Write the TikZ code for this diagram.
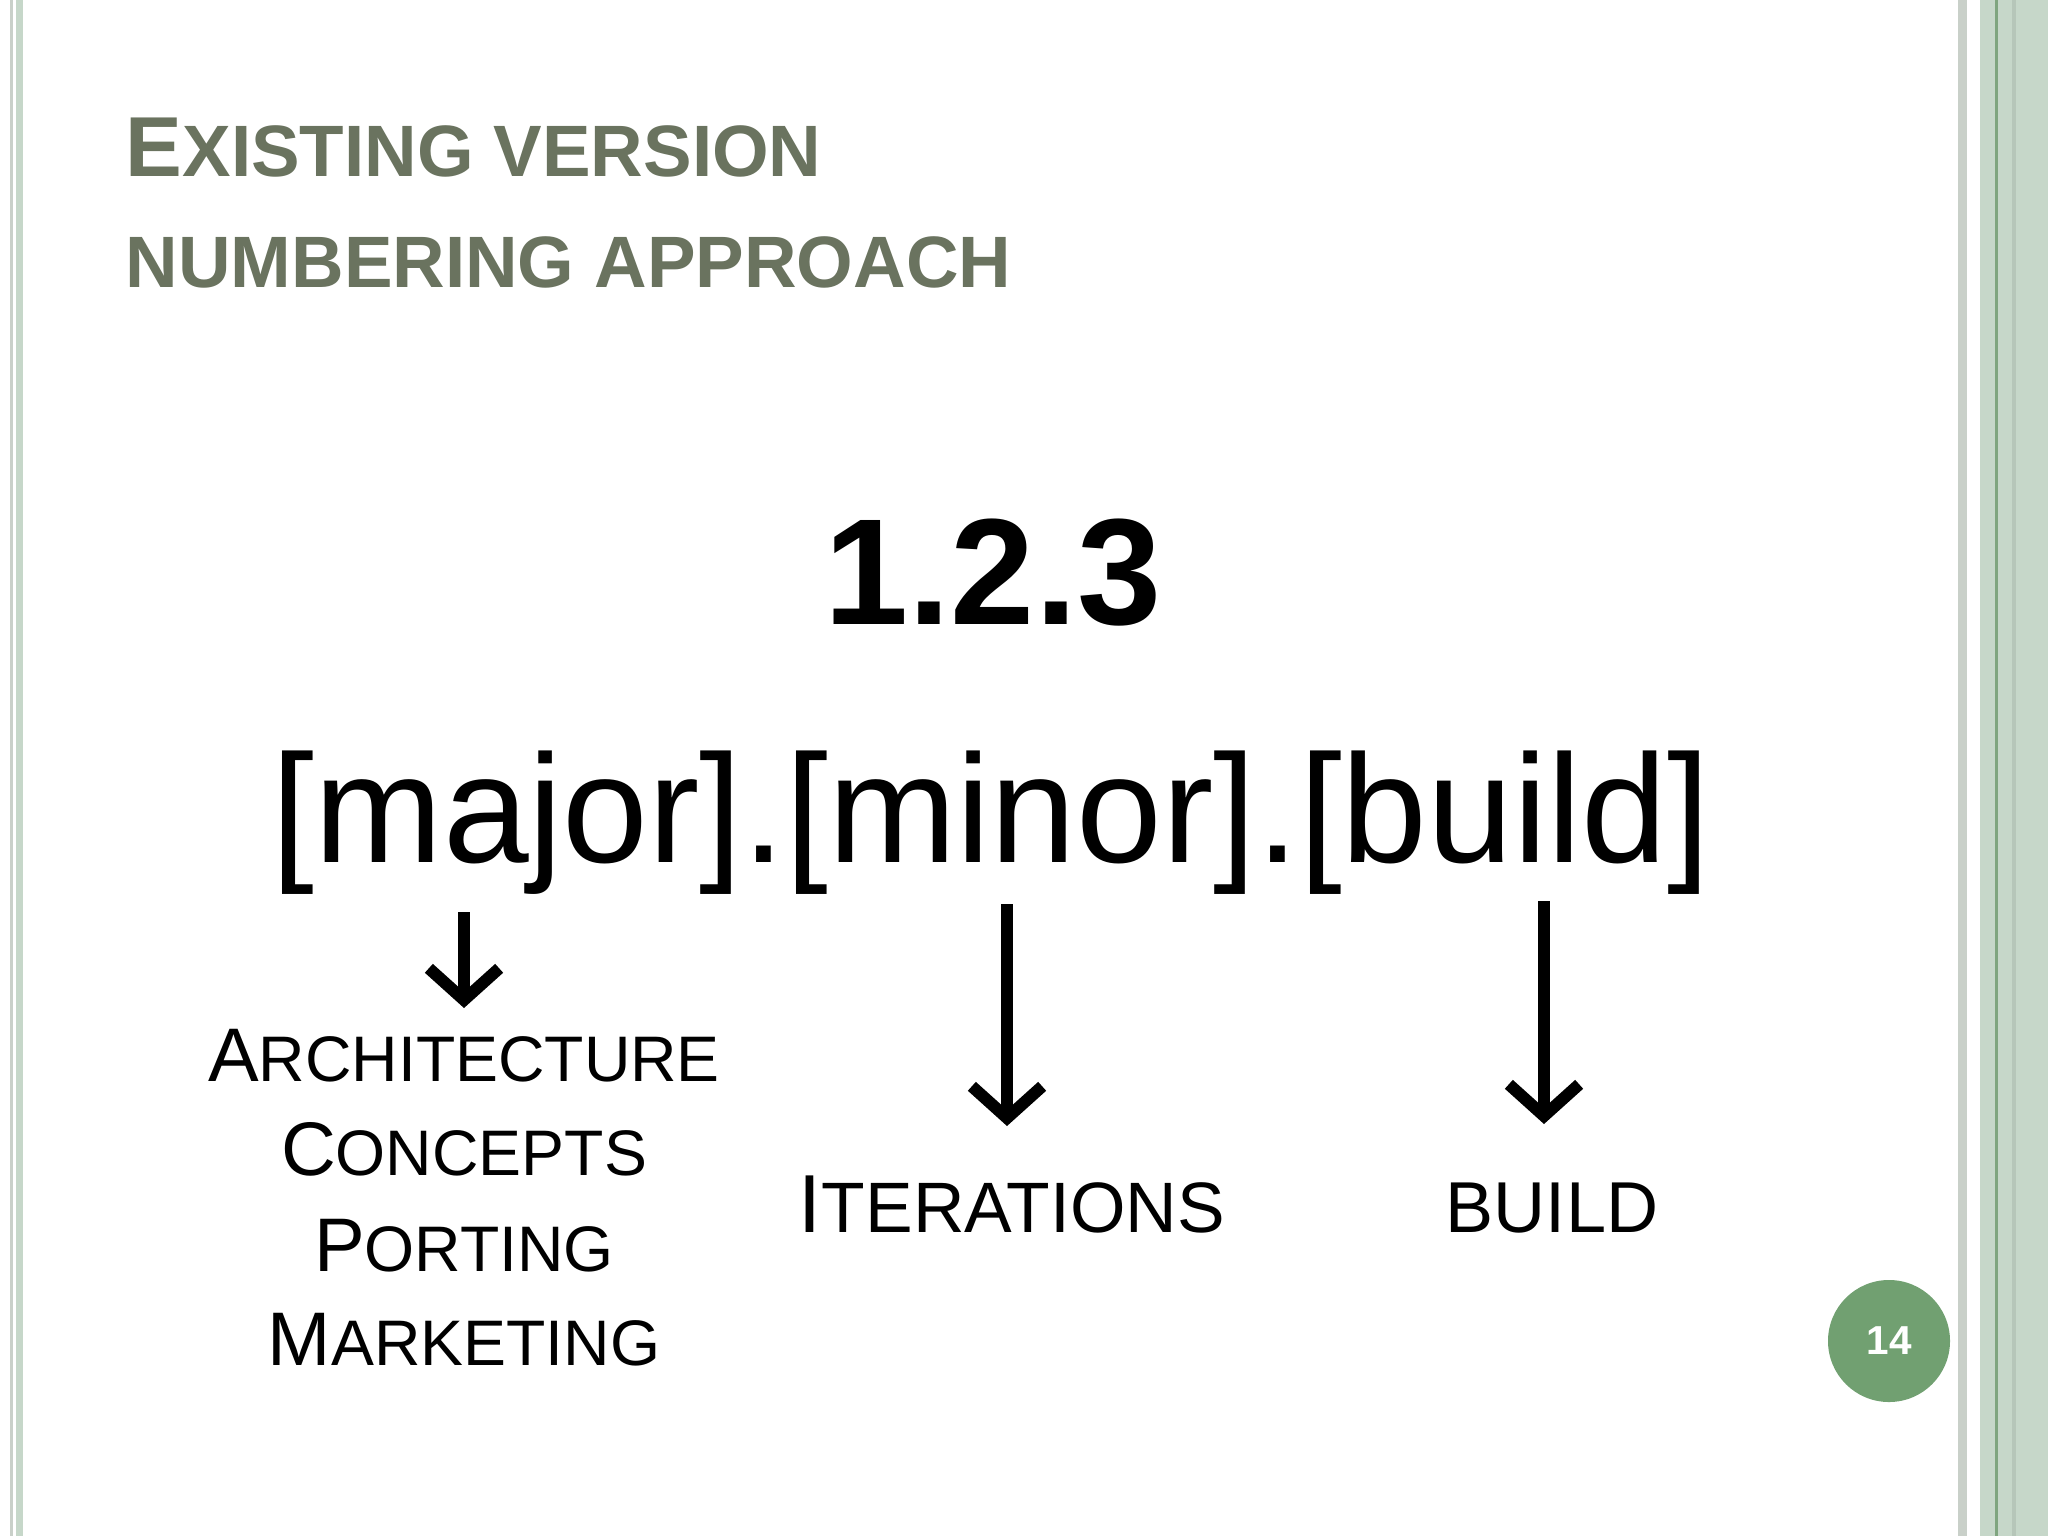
\documentclass[tikz,border=0pt]{standalone}
\usepackage{fontspec}
\setmainfont{Liberation Sans}
\usetikzlibrary{arrows.meta}
\definecolor{titlec}{HTML}{6A735F}
\definecolor{stripeg}{HTML}{C6D7C9}
\definecolor{stripegr}{HTML}{C9D0C9}
\definecolor{darkg}{HTML}{7FA57F}
\definecolor{circg}{HTML}{71A071}
\begin{document}
\begin{tikzpicture}[x=0.01cm,y=-0.01cm,
  lbl/.style={inner sep=0pt,anchor=base,font=\fontsize{23.4pt}{28pt}\selectfont},
  lblb/.style={inner sep=0pt,anchor=base,font=\fontsize{21.6pt}{26pt}\selectfont},
  arr/.style={line width=3.6pt,-{Straight Barb[length=9pt,width=20pt,line width=3.4pt]}}]
\useasboundingbox (0,0) rectangle (2048,1536);
\fill[white] (0,0) rectangle (2048,1536);
% borders
\fill[stripegr] (10,0) rectangle (13,1536);
\fill[stripeg] (16,0) rectangle (23,1536);
\fill[stripegr] (1958,0) rectangle (1967,1536);
\fill[stripeg] (1980,0) rectangle (2048,1536);
\fill[darkg] (1995,0) rectangle (1998,1536);
\fill[black!8!stripeg] (2012,0) rectangle (2016,1536);
% title
\node[inner sep=0pt,anchor=base west,text=titlec,font=\bfseries] (t1) at (125,176)
  {\fontsize{24.2pt}{29pt}\selectfont E\fontsize{20.7pt}{25pt}\selectfont XISTING VERSION};
\node[inner sep=0pt,anchor=base west,text=titlec,font=\bfseries] (t2) at (125,287)
  {\fontsize{20.7pt}{25pt}\selectfont NUMBERING APPROACH};
% main
\node[inner sep=0pt,anchor=base,font=\bfseries\fontsize{43pt}{50pt}\selectfont] (num) at (993,624) {1.2.3};
\node[inner sep=0pt,anchor=base,font=\fontsize{43.8pt}{50pt}\selectfont] (fmt) at (991,862) {[major].[minor].[build]};
% labels
\node[lblb] (l1) at (464,1081) {A\fontsize{18.3pt}{22pt}\selectfont RCHITECTURE};
\node[lblb] (l2) at (464,1175) {C\fontsize{18.3pt}{22pt}\selectfont ONCEPTS};
\node[lblb] (l3) at (464,1271) {P\fontsize{18.3pt}{22pt}\selectfont ORTING};
\node[lblb] (l4) at (464,1365) {M\fontsize{18.3pt}{22pt}\selectfont ARKETING};
\node[lbl] (it) at (1012,1232) {I\fontsize{20.3pt}{24pt}\selectfont TERATIONS};
\node[lbl] (bd) at (1552,1232) {\fontsize{20.5pt}{24pt}\selectfont BUILD};
% arrows
\coordinate (a1s) at (464,912); \coordinate (a1e) at (464,1008);
\coordinate (a2s) at (1007,904); \coordinate (a2e) at (1007,1126);
\coordinate (a3s) at (1544,901); \coordinate (a3e) at (1544,1124);
\draw[arr] (a1s) -- (a1e);
\draw[arr] (a2s) -- (a2e);
\draw[arr] (a3s) -- (a3e);
% page number
\node[circle,fill=circg,minimum size=34.7pt,inner sep=0pt,text=white,font=\bfseries\fontsize{11.5pt}{13pt}\selectfont] (pg) at (1889,1341) {14};
\end{tikzpicture}
\end{document}
